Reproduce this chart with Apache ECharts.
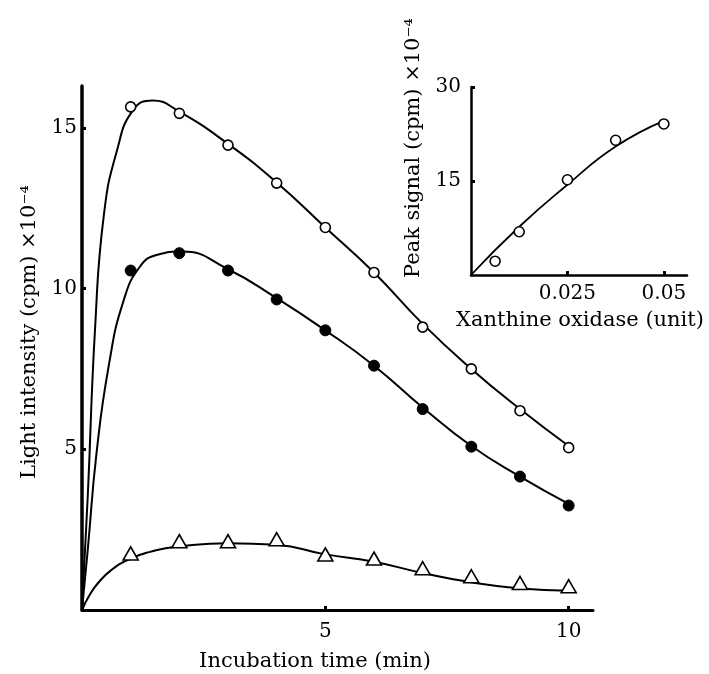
<!DOCTYPE html>
<html><head><meta charset="utf-8">
<script src="https://cdn.jsdelivr.net/npm/echarts@6/dist/echarts.min.js"></script>
<style>html,body{margin:0;padding:0;background:#fff}#c{width:709px;height:674px}</style>
</head><body><div id="c"></div>
<script>
// Main chart data: incubation time (min) vs light intensity (cpm x 1e-4)
const times = [1,2,3,4,5,6,7,8,9,10];
const openVals = [15.65,15.45,14.46,13.28,11.9,10.5,8.8,7.5,6.2,5.05];
const filledVals = [10.56,11.1,10.56,9.66,8.7,7.6,6.25,5.08,4.15,3.25];
const triVals = [1.76,2.14,2.14,2.2,1.73,1.6,1.3,1.05,0.84,0.74];
// Fitted curves
const openCurve = [[0,0],[0.12,3.6],[0.27,8.8],[0.45,12.3],[0.72,14.3],[1.05,15.55],[1.45,15.85],[2,15.5],[3,14.5],[4,13.3],[5,11.9],[6,10.5],[7,8.9],[8,7.5],[9,6.25],[10,5.1]];
const filledCurve = [[0,0],[0.12,1.9],[0.3,4.9],[0.55,7.6],[0.85,9.6],[1.2,10.7],[1.55,11.05],[2.05,11.15],[3,10.6],[4,9.7],[5,8.7],[6,7.6],[7,6.3],[8,5.1],[9,4.15],[10,3.3]];
const triCurve = [[0,0],[0.15,0.45],[0.33,0.84],[0.6,1.24],[0.95,1.56],[1.5,1.85],[2,1.98],[3,2.08],[4,2.03],[5,1.73],[6,1.5],[7,1.15],[8,0.86],[9,0.67],[10,0.6]];
// Inset: xanthine oxidase (unit) vs peak signal
const xoUnits = [0.00625,0.0125,0.025,0.0375,0.05];
const peakVals = [2.2,6.9,15.2,21.5,24.1];
const peakCurve = [[0,0],[0.0125,7.7],[0.025,14.4],[0.0375,20.5],[0.05,24.6]];
// Tick labels
const mainXTicks = [5,10];
const mainYTicks = [5,10,15];
const insetXTicks = [0.025,0.05];
const insetYTicks = [15,30];

const FONT = '"DejaVu Serif", "Liberation Serif", serif';
const zip = (xs, ys) => xs.map((x,i)=>[x, ys[i]]);
const chart = echarts.init(document.getElementById('c'));

function axisCommon(ticks, lw, margin){
  return {
    axisLine:{show:true, lineStyle:{color:'#000', width:lw}},
    axisTick:{show:true, inside:true, length:4, lineStyle:{color:'#000', width:3}, customValues: ticks},
    axisLabel:{color:'#000', fontFamily:FONT, fontSize:20, margin:margin, customValues: ticks, formatter: v=>String(v)},
    splitLine:{show:false}
  };
}
const lineS = (xi, data, w) => ({type:'line', xAxisIndex:xi, yAxisIndex:xi, data:data, showSymbol:false, smooth:0.5, lineStyle:{color:'#000', width:w}});
const open = {color:'#fff', borderColor:'#000', borderWidth:1.6, opacity:1};

const option = {
  backgroundColor:'#fff',
  animation:false,
  grid:[
    {left:82, right:116, top:86, bottom:64},
    {left:471, right:22, top:87, bottom:399}
  ],
  xAxis:[
    Object.assign({type:'value', gridIndex:0, min:0, max:10.5}, axisCommon(mainXTicks, 3, 12)),
    Object.assign({type:'value', gridIndex:1, min:0, max:0.056}, axisCommon(insetXTicks, 2.5, 9))
  ],
  yAxis:[
    Object.assign({type:'value', gridIndex:0, min:0, max:16.3}, axisCommon(mainYTicks, 3.5, 5)),
    Object.assign({type:'value', gridIndex:1, min:0, max:30}, axisCommon(insetYTicks, 2.5, 10))
  ],
  series:[
    lineS(0, openCurve, 2),
    lineS(0, filledCurve, 2),
    lineS(0, triCurve, 2),
    lineS(1, peakCurve, 1.8),
    {type:'scatter', xAxisIndex:0, yAxisIndex:0, z:5, data:zip(times, openVals), symbol:'circle', symbolSize:10, itemStyle:open},
    {type:'scatter', xAxisIndex:0, yAxisIndex:0, z:5, data:zip(times, filledVals), symbol:'circle', symbolSize:11, itemStyle:{color:'#000', borderColor:'#000', borderWidth:1, opacity:1}},
    {type:'scatter', xAxisIndex:0, yAxisIndex:0, z:5, data:zip(times, triVals), symbol:'triangle', symbolSize:[15,13], itemStyle:open},
    {type:'scatter', xAxisIndex:1, yAxisIndex:1, z:5, data:zip(xoUnits, peakVals), symbol:'circle', symbolSize:10, itemStyle:open}
  ],
  graphic:[
    {type:'text', x:315, y:662, style:{text:'Incubation time (min)', font:'21px '+FONT, fill:'#000', textAlign:'center', textVerticalAlign:'middle'}},
    {type:'text', x:30, y:332, rotation:Math.PI/2, style:{text:'Light intensity (cpm) ×10⁻⁴', font:'21px '+FONT, fill:'#000', textAlign:'center', textVerticalAlign:'middle'}},
    {type:'text', x:580, y:321, style:{text:'Xanthine oxidase (unit)', font:'21px '+FONT, fill:'#000', textAlign:'center', textVerticalAlign:'middle'}},
    {type:'text', x:414, y:148, rotation:Math.PI/2, style:{text:'Peak signal (cpm) ×10⁻⁴', font:'21px '+FONT, fill:'#000', textAlign:'center', textVerticalAlign:'middle'}}
  ]
};
chart.setOption(option);
</script></body></html>
